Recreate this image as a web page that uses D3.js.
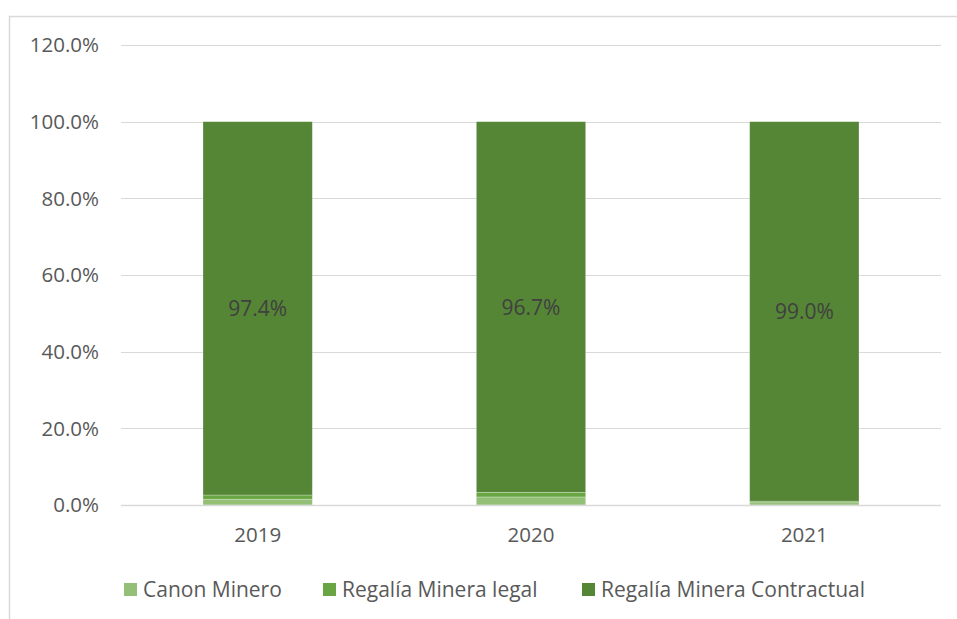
<!DOCTYPE html>
<html><head><meta charset="utf-8">
<script src="https://cdn.jsdelivr.net/npm/d3@7"></script>
<style>body{margin:0;background:#fff}svg{display:block}</style>
</head><body>
<svg id="c" width="957" height="619"></svg>
<script>
const years = ["2019", "2020", "2021"];
const canonMinero = [0.015, 0.021, 0.006];
const regaliaLegal = [0.011, 0.012, 0.004];
const regaliaContractual = [0.974, 0.967, 0.990];
const seriesNames = ["Canon Minero", "Regalía Minera legal", "Regalía Minera Contractual"];
const seriesColors = ["#93bf76", "#6aa544", "#558636"];
const yTicks = [0, 0.2, 0.4, 0.6, 0.8, 1.0, 1.2];

const svg = d3.select("#c");
const font = "'Open Sans', sans-serif";
// outer border
svg.append("path").attr("d", "M9.5,619 V16.5 H957").attr("fill", "none").attr("stroke", "#d9d9d9").attr("stroke-width", 1.5);

const x = d3.scaleBand().domain(years).range([121, 941]).paddingInner(0.6).paddingOuter(0.3);
const y = d3.scaleLinear().domain([0, 1.2]).range([505, 45]);

// gridlines
svg.append("g").selectAll("line").data(yTicks).join("line")
  .attr("x1", 121).attr("x2", 941)
  .attr("y1", d => Math.round(y(d)) + 0.5).attr("y2", d => Math.round(y(d)) + 0.5)
  .attr("stroke", "#d9d9d9").attr("stroke-width", 1);

// y labels
svg.append("g").selectAll("text").data(yTicks).join("text")
  .attr("x", 99).attr("y", d => y(d)).attr("dy", "0.36em").attr("text-anchor", "end")
  .attr("font-family", font).attr("font-size", 20.5).attr("fill", "#595959")
  .text(d => d3.format(".1%")(d));

// stacked data
const rows = years.map((yr, i) => ({year: yr, s0: canonMinero[i], s1: regaliaLegal[i], s2: regaliaContractual[i]}));
const stack = d3.stack().keys(["s0", "s1", "s2"])(rows);
svg.append("g").selectAll("g").data(stack).join("g")
  .attr("fill", (d, i) => seriesColors[i])
  .selectAll("rect").data(d => d).join("rect")
  .attr("x", d => x(d.data.year)).attr("width", x.bandwidth())
  .attr("y", d => y(d[1])).attr("height", d => y(d[0]) - y(d[1]))
  .attr("stroke", "rgba(255,255,255,0.35)").attr("stroke-width", 0.75);

// axis line
svg.append("line").attr("x1", 121).attr("x2", 941).attr("y1", 505.5).attr("y2", 505.5).attr("stroke", "#d9d9d9").attr("stroke-width", 1.5);

// value labels
svg.append("g").selectAll("text").data(stack[2]).join("text")
  .attr("x", d => x(d.data.year) + x.bandwidth() / 2)
  .attr("y", d => (y(d[0]) + y(d[1])) / 2).attr("dy", "0.36em").attr("text-anchor", "middle")
  .attr("font-family", font).attr("font-size", 21).attr("fill", "#404040")
  .text(d => d3.format(".1%")(d.data.s2));

// x labels
svg.append("g").selectAll("text").data(years).join("text")
  .attr("x", d => x(d) + x.bandwidth() / 2).attr("y", 535).attr("dy", "0.36em").attr("text-anchor", "middle")
  .attr("font-family", font).attr("font-size", 20.5).attr("fill", "#595959").text(d => d);

// legend
const legendX = [124, 323, 582];
const lg = svg.append("g").selectAll("g").data(seriesNames).join("g")
  .attr("transform", (d, i) => `translate(${legendX[i]},589)`);
lg.append("rect").attr("x", 0).attr("y", -6).attr("width", 13).attr("height", 13).attr("fill", (d, i) => seriesColors[i]);
lg.append("text").attr("x", 19).attr("y", 0).attr("dy", "0.36em")
  .attr("font-family", font).attr("font-size", 21).attr("fill", "#595959").text(d => d);
</script>
</body></html>
